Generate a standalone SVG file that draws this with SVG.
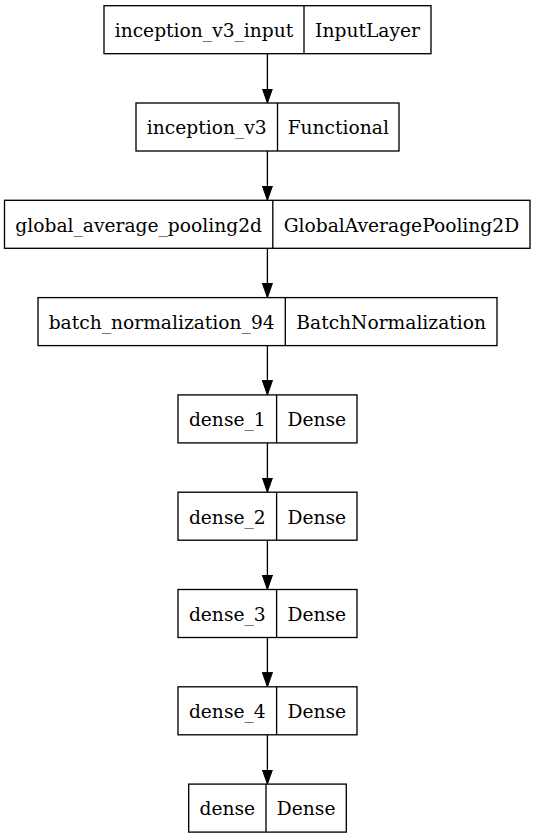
<svg xmlns="http://www.w3.org/2000/svg" width="535" height="839" viewBox="0 0 535 839">
<style>
.box{fill:#fff;stroke:#000;stroke-width:1.33}
.div{stroke:#000;stroke-width:1.33}
text{font-family:"DejaVu Serif",serif;font-size:18.67px;text-anchor:middle;fill:#000}
.edge{stroke:#000;stroke-width:1.33;fill:none}
</style>
<defs>
<marker id="ah" markerUnits="userSpaceOnUse" markerWidth="16" markerHeight="12" refX="14.5" refY="5.1" orient="auto">
<path d="M0,0 L14.5,5.1 L0,10.2 Z" fill="#000" stroke="#000" stroke-width="1"/>
</marker>
</defs>
<rect width="535" height="839" fill="#fff"/>
<g id="connectors">
<line class="edge" x1="267.4" y1="53.7" x2="267.4" y2="103" marker-end="url(#ah)"/>
<line class="edge" x1="267.4" y1="151" x2="267.4" y2="200.3" marker-end="url(#ah)"/>
<line class="edge" x1="267.4" y1="248.3" x2="267.4" y2="297.6" marker-end="url(#ah)"/>
<line class="edge" x1="267.4" y1="345.6" x2="267.4" y2="394.9" marker-end="url(#ah)"/>
<line class="edge" x1="267.4" y1="442.9" x2="267.4" y2="492.2" marker-end="url(#ah)"/>
<line class="edge" x1="267.4" y1="540.2" x2="267.4" y2="589.5" marker-end="url(#ah)"/>
<line class="edge" x1="267.4" y1="637.5" x2="267.4" y2="686.8" marker-end="url(#ah)"/>
<line class="edge" x1="267.4" y1="734.8" x2="267.4" y2="784.1" marker-end="url(#ah)"/>
</g>
<g id="n1">
<rect class="box" x="104" y="5.7" width="327" height="48"/>
<line class="div" x1="304" y1="5.7" x2="304" y2="53.7"/>
<text x="204" y="37">inception_v3_input</text>
<text x="367.5" y="37">InputLayer</text>
</g>
<g id="n2">
<rect class="box" x="136" y="103" width="263" height="48"/>
<line class="div" x1="277.5" y1="103" x2="277.5" y2="151"/>
<text x="206.75" y="134.3">inception_v3</text>
<text x="338.25" y="134.3">Functional</text>
</g>
<g id="n3">
<rect class="box" x="4.5" y="200.3" width="525.5" height="48"/>
<line class="div" x1="272.8" y1="200.3" x2="272.8" y2="248.3"/>
<text x="138.65" y="231.6">global_average_pooling2d</text>
<text x="401.4" y="231.6">GlobalAveragePooling2D</text>
</g>
<g id="n4">
<rect class="box" x="38" y="297.6" width="459" height="48"/>
<line class="div" x1="285.3" y1="297.6" x2="285.3" y2="345.6"/>
<text x="161.65" y="328.9">batch_normalization_94</text>
<text x="391.15" y="328.9">BatchNormalization</text>
</g>
<g id="n5">
<rect class="box" x="178" y="394.9" width="179" height="48"/>
<line class="div" x1="276.6" y1="394.9" x2="276.6" y2="442.9"/>
<text x="227.3" y="426.2">dense_1</text>
<text x="316.8" y="426.2">Dense</text>
</g>
<g id="n6">
<rect class="box" x="178" y="492.2" width="179" height="48"/>
<line class="div" x1="276.6" y1="492.2" x2="276.6" y2="540.2"/>
<text x="227.3" y="523.5">dense_2</text>
<text x="316.8" y="523.5">Dense</text>
</g>
<g id="n7">
<rect class="box" x="178" y="589.5" width="179" height="48"/>
<line class="div" x1="276.6" y1="589.5" x2="276.6" y2="637.5"/>
<text x="227.3" y="620.8">dense_3</text>
<text x="316.8" y="620.8">Dense</text>
</g>
<g id="n8">
<rect class="box" x="178" y="686.8" width="179" height="48"/>
<line class="div" x1="276.6" y1="686.8" x2="276.6" y2="734.8"/>
<text x="227.3" y="718.1">dense_4</text>
<text x="316.8" y="718.1">Dense</text>
</g>
<g id="n9">
<rect class="box" x="188.7" y="784.1" width="157.6" height="48"/>
<line class="div" x1="266" y1="784.1" x2="266" y2="832.1"/>
<text x="227.35" y="815.4">dense</text>
<text x="306.15" y="815.4">Dense</text>
</g>
</svg>
